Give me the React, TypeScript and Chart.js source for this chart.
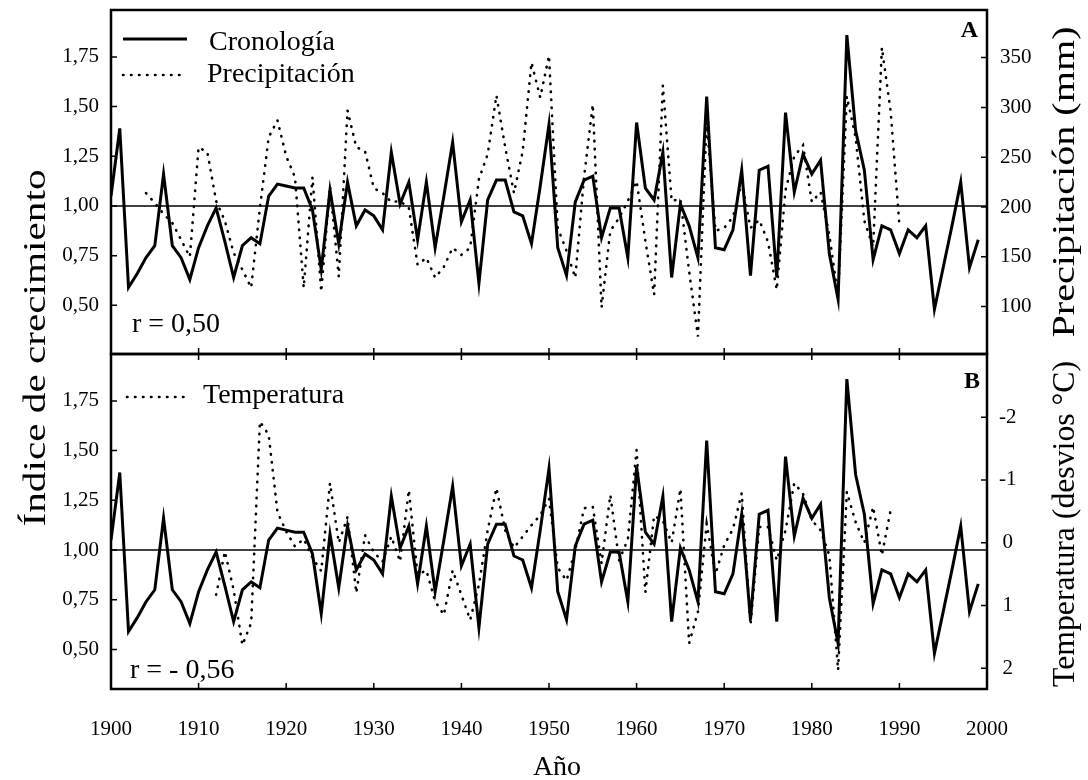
import React, { useEffect, useRef } from 'react';
import { Chart, registerables } from 'chart.js';

Chart.register(...registerables);

const SERIF = "'Liberation Serif', 'Times New Roman', serif";

// ---- data ----
const chronologyStart = 1900;
const chronology = [
  1.05, 1.39, 0.59, 0.66, 0.74, 0.80, 1.16, 0.80, 0.74, 0.63,
  0.79, 0.90, 0.99, 0.82, 0.64, 0.80, 0.84, 0.81, 1.05, 1.11,
  1.10, 1.09, 1.09, 0.98, 0.68, 1.08, 0.81, 1.12, 0.90, 0.98,
  0.95, 0.88, 1.27, 1.01, 1.12, 0.83, 1.12, 0.79, 1.05, 1.32,
  0.92, 1.03, 0.61, 1.03, 1.13, 1.13, 0.97, 0.95, 0.81, 1.10,
  1.41, 0.79, 0.65, 1.02, 1.13, 1.15, 0.84, 0.99, 0.99, 0.74,
  1.42, 1.09, 1.03, 1.27, 0.64, 1.01, 0.90, 0.74, 1.55, 0.79,
  0.78, 0.88, 1.18, 0.65, 1.18, 1.20, 0.64, 1.47, 1.07, 1.26,
  1.16, 1.23, 0.76, 0.53, 1.86, 1.38, 1.18, 0.73, 0.90, 0.88,
  0.76, 0.88, 0.84, 0.90, 0.48, 0.69, 0.90, 1.12, 0.69, 0.83,
];

const precipitationStart = 1904;
const precipitation = [
  214, 204, 193, 184, 167, 150,
  260, 255, 206, 186, 154, 137, 119, 199, 270, 287,
  251, 230, 119, 230, 115, 221, 130, 297, 260, 256,
  219, 214, 205, 206, 199, 142, 149, 129, 140, 159,
  152, 159, 228, 253, 312, 260, 214, 256, 345, 310,
  352, 179, 156, 129, 230, 303, 99, 176, 189, 206,
  226, 166, 112, 322, 206, 208, 135, 70, 286, 176,
  179, 190, 225, 179, 187, 165, 117, 217, 251, 262,
  205, 215, 172, 110, 311, 270, 186, 160, 360, 296,
  182,
];

const temperatureStart = 1912;
const temperature = [
  0.83, 0.14, 0.75, 1.63, 1.28, -1.93, -1.72, -0.49,
  -0.18, 0.06, -0.06, 0.24, 0.45, -0.95, 0.0, -0.41, 0.8, -0.12,
  0.15, 0.3, -0.1, 0.3, -0.84, 0.51, 0.44, 0.93, 1.15, 0.44,
  0.83, 1.23, 0.67, -0.2, -0.87, -0.2, 0.08, -0.1, -0.28, -0.44,
  -0.7, 0.4, 0.6, 0.12, -0.55, -0.57, 0.33, -0.76, 0.28, -0.05,
  -1.48, 0.79, -0.43, -0.35, 0.0, -0.86, 1.6, 1.1, -0.3, 0.5,
  0.04, -0.22, -0.79, 1.31, -0.25, -0.25, 0.28, -0.2, -0.95, -0.78,
  -0.36, -0.2, 0.2, 2.03, -0.81, -0.33, 0.0, -0.57, 0.2, -0.52,
];

const yearTicks = [1900, 1910, 1920, 1930, 1940, 1950, 1960, 1970, 1980, 1990, 2000];
const indexTicks = [0.5, 0.75, 1.0, 1.25, 1.5, 1.75];
const precipitationTicks = [100, 150, 200, 250, 300, 350];
const temperatureTicks = [-2, -1, 0, 1, 2];
const referenceIndex = 1.0;

const yearRange = [1900, 2000];
const indexRangeA = [0.255, 1.986];
const indexRangeB = [0.301, 1.986];
const precipitationRange = [52.4, 397.8];
const temperatureRange = [-3.007, 2.33];

const toPoints = (start: number, values: number[]) =>
  values.map((v, i) => ({ x: start + i, y: v }));

function vText(ctx: CanvasRenderingContext2D, text: string, cx: number, cy: number, size: number, length: number) {
  ctx.save();
  ctx.translate(cx, cy);
  ctx.rotate(-Math.PI / 2);
  ctx.font = `${size}px ${SERIF}`;
  const w = ctx.measureText(text).width;
  ctx.scale(length / w, 1);
  ctx.textAlign = 'center';
  ctx.textBaseline = 'middle';
  ctx.fillStyle = '#000';
  ctx.fillText(text, 0, 0);
  ctx.restore();
}

const decorPlugin = {
  id: 'decor',
  afterDraw(chart: any) {
    const { ctx, scales } = chart;
    const x = scales.x, yA = scales.yA, yB = scales.yB, pA = scales.pA, tB = scales.tB;
    const L = x.left, R = x.right;
    ctx.save();
    ctx.strokeStyle = '#000';
    ctx.fillStyle = '#000';
    // frames
    ctx.lineWidth = 2.5;
    ctx.strokeRect(L, yA.top, R - L, yA.bottom - yA.top);
    ctx.strokeRect(L, yB.top, R - L, yB.bottom - yB.top);
    // inward ticks
    ctx.lineWidth = 1.5;
    const tl = 6;
    ctx.beginPath();
    for (const s of [yA, yB]) {
      for (const v of indexTicks) {
        const py = s.getPixelForValue(v);
        ctx.moveTo(L, py); ctx.lineTo(L + tl, py);
      }
    }
    for (const v of precipitationTicks) {
      const py = pA.getPixelForValue(v);
      ctx.moveTo(R, py); ctx.lineTo(R - tl, py);
    }
    for (const v of temperatureTicks) {
      const py = tB.getPixelForValue(v);
      ctx.moveTo(R, py); ctx.lineTo(R - tl, py);
    }
    for (const v of yearTicks) {
      const px = x.getPixelForValue(v);
      ctx.moveTo(px, yA.bottom); ctx.lineTo(px, yA.bottom - tl);
      ctx.moveTo(px, yB.top); ctx.lineTo(px, yB.top + tl);
      ctx.moveTo(px, yB.bottom); ctx.lineTo(px, yB.bottom - tl);
    }
    ctx.stroke();

    // legends
    ctx.lineWidth = 3;
    ctx.beginPath();
    ctx.moveTo(L + 12, yA.top + 29); ctx.lineTo(L + 76, yA.top + 29);
    ctx.stroke();
    ctx.lineWidth = 2.6;
    ctx.lineCap = 'round';
    ctx.setLineDash([0.5, 7.5]);
    ctx.beginPath();
    ctx.moveTo(L + 12, yA.top + 65); ctx.lineTo(L + 76, yA.top + 65);
    ctx.moveTo(L + 16, yB.top + 43); ctx.lineTo(L + 76, yB.top + 43);
    ctx.stroke();
    ctx.setLineDash([]);

    ctx.textAlign = 'left';
    ctx.textBaseline = 'alphabetic';
    ctx.font = `28px ${SERIF}`;
    ctx.fillText('Cronología', L + 98, yA.top + 40);
    ctx.fillText('Precipitación', L + 96, yA.top + 72);
    ctx.fillText('Temperatura', L + 92, yB.top + 49);
    ctx.fillText('r = 0,50', L + 21, yA.bottom - 22);
    ctx.fillText('r = - 0,56', L + 19, yB.bottom - 11);

    ctx.font = `bold 24px ${SERIF}`;
    ctx.textAlign = 'right';
    ctx.fillText('A', R - 9, yA.top + 27);
    ctx.fillText('B', R - 7, yB.top + 34);

    // axis titles
    ctx.textAlign = 'center';
    ctx.font = `28px ${SERIF}`;
    ctx.fillText('Año', 557, 775);
    ctx.restore();

    vText(ctx, 'Índice de crecimiento', 37, 348, 31, 357);
    vText(ctx, 'Precipitación (mm)', 1066, 182, 31, 311);
    vText(ctx, 'Temperatura (desvios °C)', 1066, 524, 31, 326);
  },
};

export default function App() {
  const ref = useRef<HTMLCanvasElement>(null);

  useEffect(() => {
    if (!ref.current) return;
    const tickFont = { family: SERIF, size: 21 };
    const noGrid = { display: false, drawTicks: false };
    const noBorder = { display: false };
    const fitV = (w: number) => (s: any) => { s.width = w; s.paddingTop = 0; s.paddingBottom = 0; };

    const solid = {
      borderColor: '#000', borderWidth: 3, pointRadius: 0, tension: 0,
      borderJoinStyle: 'miter' as const, fill: false,
    };
    const dotted = {
      borderColor: '#000', borderWidth: 2.6, pointRadius: 0, tension: 0,
      borderDash: [0.5, 7.5], borderCapStyle: 'round' as const, fill: false,
    };
    const refLine = { borderColor: '#000', borderWidth: 1.6, pointRadius: 0, fill: false };

    const chart = new Chart(ref.current, {
      type: 'line',
      data: {
        datasets: [
          { ...refLine, label: 'refA', xAxisID: 'x', yAxisID: 'yA', data: yearRange.map((yr) => ({ x: yr, y: referenceIndex })) },
          { ...refLine, label: 'refB', xAxisID: 'x', yAxisID: 'yB', data: yearRange.map((yr) => ({ x: yr, y: referenceIndex })) },
          { ...dotted, label: 'Precipitación', xAxisID: 'x', yAxisID: 'pA', data: toPoints(precipitationStart, precipitation) },
          { ...solid, label: 'Cronología A', xAxisID: 'x', yAxisID: 'yA', data: toPoints(chronologyStart, chronology) },
          { ...dotted, label: 'Temperatura', xAxisID: 'x', yAxisID: 'tB', data: toPoints(temperatureStart, temperature) },
          { ...solid, label: 'Cronología B', xAxisID: 'x', yAxisID: 'yB', data: toPoints(chronologyStart, chronology) },
        ],
      },
      options: {
        animation: false,
        responsive: false,
        events: [],
        layout: { padding: { top: 10, left: 0, right: 0, bottom: 0 } },
        plugins: { legend: { display: false }, title: { display: false }, tooltip: { enabled: false } },
        scales: {
          x: {
            type: 'linear', position: 'bottom', min: yearRange[0], max: yearRange[1],
            grid: noGrid, border: noBorder,
            afterBuildTicks: (s: any) => { s.ticks = yearTicks.map((value) => ({ value })); },
            afterFit: (s: any) => { s.height = 91; s.paddingLeft = 0; s.paddingRight = 0; },
            ticks: { font: tickFont, color: '#000', padding: 28, maxRotation: 0, autoSkip: false, callback: (v: any) => String(v) },
          },
          yB: {
            type: 'linear', position: 'left', stack: 'left', stackWeight: 335,
            min: indexRangeB[0], max: indexRangeB[1], grid: noGrid, border: noBorder,
            afterBuildTicks: (s: any) => { s.ticks = indexTicks.map((value) => ({ value })); },
            afterFit: fitV(111),
            ticks: { font: tickFont, color: '#000', padding: 12, callback: (v: any) => Number(v).toFixed(2).replace('.', ',') },
          },
          yA: {
            type: 'linear', position: 'left', stack: 'left', stackWeight: 344,
            min: indexRangeA[0], max: indexRangeA[1], grid: noGrid, border: noBorder,
            afterBuildTicks: (s: any) => { s.ticks = indexTicks.map((value) => ({ value })); },
            afterFit: fitV(111),
            ticks: { font: tickFont, color: '#000', padding: 12, callback: (v: any) => Number(v).toFixed(2).replace('.', ',') },
          },
          pA: {
            type: 'linear', position: 'right', stack: 'right', stackWeight: 344,
            min: precipitationRange[0], max: precipitationRange[1], grid: noGrid, border: noBorder,
            afterBuildTicks: (s: any) => { s.ticks = precipitationTicks.map((value) => ({ value })); },
            afterFit: fitV(101),
            ticks: { font: tickFont, color: '#000', padding: 13, callback: (v: any) => String(v) },
          },
          tB: {
            type: 'linear', position: 'right', stack: 'right', stackWeight: 335, reverse: true,
            min: temperatureRange[0], max: temperatureRange[1], grid: noGrid, border: noBorder,
            afterBuildTicks: (s: any) => { s.ticks = temperatureTicks.map((value) => ({ value })); },
            afterFit: fitV(101),
            ticks: { font: tickFont, color: '#000', padding: 12, crossAlign: 'center', callback: (v: any) => String(v) },
          },
        },
      } as any,
      plugins: [decorPlugin],
    });
    return () => chart.destroy();
  }, []);

  return (
    <div style={{ position: 'absolute', left: 0, top: 0, width: 1088, height: 780, background: '#fff' }}>
      <canvas ref={ref} width={1088} height={780} style={{ width: 1088, height: 780, display: 'block' }} />
    </div>
  );
}
